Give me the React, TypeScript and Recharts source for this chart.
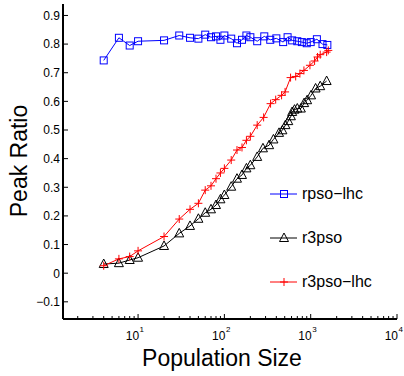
import React from 'react';
import { LineChart, Line, XAxis, YAxis, Legend } from 'recharts';

// ---- data ----
const rpsoLhcX = [4, 6, 8, 10, 20, 30, 40, 50, 60, 70, 80, 90, 100, 120, 140, 160, 180, 200, 240, 290, 340, 400, 480, 540, 610, 700, 790, 900, 1000, 1180, 1370, 1560];
const rpsoLhcY = [0.743, 0.822, 0.795, 0.81, 0.813, 0.83, 0.822, 0.819, 0.833, 0.824, 0.827, 0.815, 0.83, 0.819, 0.803, 0.815, 0.83, 0.824, 0.81, 0.827, 0.815, 0.82, 0.807, 0.824, 0.813, 0.81, 0.807, 0.803, 0.807, 0.817, 0.8, 0.797];

const r3psoX = [4, 6, 8, 10, 20, 30, 40, 50, 60, 70, 80, 90, 100, 120, 140, 160, 180, 200, 240, 280, 330, 370, 430, 470, 510, 550, 590, 610, 650, 700, 770, 840, 910, 1010, 1140, 1290, 1530];
const r3psoY = [0.032, 0.035, 0.046, 0.054, 0.095, 0.139, 0.165, 0.19, 0.211, 0.223, 0.238, 0.258, 0.273, 0.302, 0.33, 0.343, 0.366, 0.377, 0.406, 0.436, 0.447, 0.467, 0.49, 0.499, 0.517, 0.531, 0.548, 0.563, 0.571, 0.575, 0.575, 0.594, 0.604, 0.621, 0.645, 0.653, 0.671];

const r3psoLhcX = [4, 6, 8, 10, 20, 30, 40, 50, 60, 70, 80, 90, 100, 120, 140, 160, 180, 200, 240, 285, 343, 393, 460, 505, 585, 670, 750, 835, 980, 1110, 1200, 1290, 1530, 1600];
const r3psoLhcY = [0.026, 0.05, 0.058, 0.078, 0.128, 0.189, 0.223, 0.244, 0.29, 0.305, 0.33, 0.35, 0.366, 0.395, 0.43, 0.439, 0.464, 0.478, 0.517, 0.544, 0.592, 0.606, 0.621, 0.633, 0.683, 0.687, 0.697, 0.708, 0.726, 0.741, 0.755, 0.763, 0.772, 0.778];

const seriesNames = ['rpso\u2212lhc', 'r3pso', 'r3pso\u2212lhc'];
const seriesColors = ['#0000ff', '#000000', '#ff0000'];

const xMajorTicks = [10, 100, 1000, 10000];
const xMajorExp = ['1', '2', '3', '4'];
const xAllTicks = [2, 3, 4, 5, 6, 7, 8, 9, 10, 20, 30, 40, 50, 60, 70, 80, 90, 100, 200, 300, 400, 500, 600, 700, 800, 900, 1000, 2000, 3000, 4000, 5000, 6000, 7000, 8000, 9000, 10000];
const yTicks = [-0.1, 0, 0.1, 0.2, 0.3, 0.4, 0.5, 0.6, 0.7, 0.8, 0.9];
const yTickLabels = ['\u22120.1', '0', '0.1', '0.2', '0.3', '0.4', '0.5', '0.6', '0.7', '0.8', '0.9'];

const xDomain = [1.35, 10000];
const yDomain = [-0.16, 0.94];

const toPoints = (xs: number[], ys: number[]) => xs.map((x, i) => ({ x, y: ys[i] }));
const rpsoLhcData = toPoints(rpsoLhcX, rpsoLhcY);
const r3psoData = toPoints(r3psoX, r3psoY);
const r3psoLhcData = toPoints(r3psoLhcX, r3psoLhcY);

const FONT = '"Liberation Sans", Arial, Helvetica, sans-serif';

// ---- markers ----
const Square = ({ cx, cy, color }: any) => (
  <rect x={cx - 3.5} y={cy - 3.5} width={7} height={7} fill="none" stroke={color} strokeWidth={1} />
);
const Triangle = ({ cx, cy, color }: any) => (
  <path d={`M${cx},${cy - 5} L${cx - 4.5},${cy + 3.5} L${cx + 4.5},${cy + 3.5} Z`} fill="none" stroke={color} strokeWidth={1} />
);
const Plus = ({ cx, cy, color }: any) => (
  <path d={`M${cx - 4},${cy} L${cx + 4},${cy} M${cx},${cy - 4} L${cx},${cy + 4}`} stroke={color} strokeWidth={1} fill="none" />
);
const markers = [Square, Triangle, Plus];

// ---- ticks ----
const BottomTick = (props: any) => {
  const { x, y, payload } = props;
  const idx = xMajorTicks.indexOf(payload.value);
  const major = idx >= 0;
  return (
    <g>
      <line x1={x} x2={x} y1={y} y2={y - (major ? 5 : 3)} stroke="#000" strokeWidth={1} />
      {major && (
        <text x={x + 1} y={y + 21} textAnchor="end" fontSize={12} fontFamily={FONT} fill="#000">10</text>
      )}
      {major && (
        <text x={x + 1.5} y={y + 13} textAnchor="start" fontSize={8} fontFamily={FONT} fill="#000">{xMajorExp[idx]}</text>
      )}
    </g>
  );
};

const TopTick = (props: any) => {
  const { x, y, payload } = props;
  const major = xMajorTicks.indexOf(payload.value) >= 0;
  return <line x1={x} x2={x} y1={y} y2={y + (major ? 5 : 3)} stroke="#000" strokeWidth={1} />;
};

const LeftTick = (props: any) => {
  const { x, y, payload } = props;
  const idx = yTicks.indexOf(payload.value);
  return (
    <g>
      <line x1={x} x2={x + 5} y1={y} y2={y} stroke="#000" strokeWidth={1} />
      <text x={x - 3} y={y} dy="0.36em" textAnchor="end" fontSize={12} fontFamily={FONT} fill="#000">
        {idx >= 0 ? yTickLabels[idx] : ''}
      </text>
    </g>
  );
};

// ---- legend ----
const legendRowsY = [16, 60, 104];
const LegendContent = () => (
  <svg width={142} height={120} style={{ display: 'block' }}>
    {seriesNames.map((name, i) => {
      const M = markers[i];
      const y = legendRowsY[i];
      return (
        <g key={name}>
          <line x1={8} x2={35} y1={y} y2={y} stroke={seriesColors[i]} strokeWidth={1} />
          <M cx={22} cy={y} color={seriesColors[i]} />
          <text x={40} y={y + 4.5} fontSize={16} fontFamily={FONT} fill="#000">{name}</text>
        </g>
      );
    })}
  </svg>
);

export default function App() {
  return (
    <div style={{ position: 'absolute', left: 0, top: 0, width: 404, height: 376, background: '#fff' }}>
      <LineChart width={404} height={376} margin={{ top: 4, right: 7, bottom: 27, left: 0 }}>
        <XAxis
          dataKey="x"
          type="number"
          scale="log"
          domain={xDomain}
          allowDataOverflow
          ticks={xAllTicks}
          interval={0}
          height={30}
          tickSize={0}
          tickMargin={0}
          tick={BottomTick}
          axisLine={{ stroke: '#000', strokeWidth: 2 }}
          tickLine={false}
          label={{
            content: () => (
              <text x={222} y={366} textAnchor="middle" fontSize={23} fontFamily={FONT} fill="#000">Population Size</text>
            ),
          }}
        />
        <XAxis
          xAxisId="top"
          orientation="top"
          dataKey="x"
          type="number"
          scale="log"
          domain={xDomain}
          allowDataOverflow
          ticks={xAllTicks}
          interval={0}
          height={0}
          tickSize={0}
          tickMargin={0}
          tick={TopTick}
          axisLine={{ stroke: '#000', strokeWidth: 1.5 }}
          tickLine={false}
        />
        <YAxis
          type="number"
          domain={yDomain}
          allowDataOverflow
          ticks={yTicks}
          interval={0}
          width={63}
          tickSize={0}
          tickMargin={0}
          tick={LeftTick}
          axisLine={{ stroke: '#000', strokeWidth: 2 }}
          tickLine={false}
          label={{
            content: () => (
              <text x={27} y={161} transform="rotate(-90, 27, 161)" textAnchor="middle" fontSize={23} fontFamily={FONT} fill="#000">Peak Ratio</text>
            ),
          }}
        />
        <Line
          data={rpsoLhcData}
          dataKey="y"
          name={seriesNames[0]}
          stroke={seriesColors[0]}
          strokeWidth={1}
          isAnimationActive={false}
          activeDot={false}
          dot={(p: any) => <Square key={`s${p.index}`} cx={p.cx} cy={p.cy} color={seriesColors[0]} />}
        />
        <Line
          data={r3psoData}
          dataKey="y"
          name={seriesNames[1]}
          stroke={seriesColors[1]}
          strokeWidth={1}
          isAnimationActive={false}
          activeDot={false}
          dot={(p: any) => <Triangle key={`t${p.index}`} cx={p.cx} cy={p.cy} color={seriesColors[1]} />}
        />
        <Line
          data={r3psoLhcData}
          dataKey="y"
          name={seriesNames[2]}
          stroke={seriesColors[2]}
          strokeWidth={1}
          isAnimationActive={false}
          activeDot={false}
          dot={(p: any) => <Plus key={`p${p.index}`} cx={p.cx} cy={p.cy} color={seriesColors[2]} />}
        />
        <Legend
          layout="vertical"
          align="center"
          verticalAlign="middle"
          content={LegendContent}
          wrapperStyle={{ position: 'absolute', left: 262, top: 178, width: 142, height: 120 }}
        />
      </LineChart>
    </div>
  );
}
